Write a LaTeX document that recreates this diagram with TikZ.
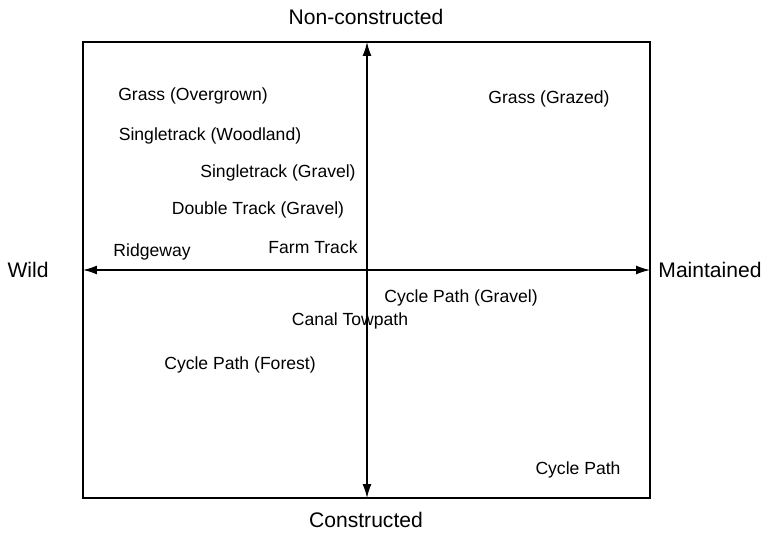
\documentclass[tikz,border=0pt]{standalone}
\usepackage{fontspec}
\setmainfont{Liberation Sans}
\usetikzlibrary{arrows.meta}

\begin{document}
\begin{tikzpicture}[x=0.02cm, y=-0.02cm,
    surface/.style={font=\fontsize{10}{12}\selectfont, inner sep=0pt, yshift=-0.04cm},
    axislabel/.style={font=\fontsize{12}{14}\selectfont, inner sep=0pt},
    axis/.style={thick, {Latex[length=2.8mm, width=1.8mm]}-{Latex[length=2.8mm, width=1.8mm]}}]
  \useasboundingbox (0, 0) rectangle (764, 533);

  % ----- Frame and axes -----
  \draw[thick] (83, 42) rectangle (650, 498);
  \coordinate (top) at (367, 42);
  \coordinate (bottom) at (367, 498);
  \coordinate (left) at (83, 270);
  \coordinate (right) at (650, 270);
  \draw[axis] (bottom) -- (top);
  \draw[axis] (left) -- (right);

  % Axis labels
  \node[axislabel] (noncon) at (366, 17) {Non-constructed};
  \node[axislabel] (con) at (366, 520) {Constructed};
  \node[axislabel] (wild) at (28, 270) {Wild};
  \node[axislabel] (maint) at (710, 270) {Maintained};

  % ----- Surfaces -----
  \node[surface] (overgrown) at (193, 94) {Grass (Overgrown)};
  \node[surface] (grazed) at (549, 97) {Grass (Grazed)};
  \node[surface] (woodland) at (210, 134) {Singletrack (Woodland)};
  \node[surface] (stgravel) at (278, 171) {Singletrack (Gravel)};
  \node[surface] (dtgravel) at (258, 208) {Double Track (Gravel)};
  \node[surface] (ridgeway) at (152, 250) {Ridgeway};
  \node[surface] (farm) at (313, 245) {Farm Track};
  \node[surface] (cpgravel) at (461, 296) {Cycle Path (Gravel)};
  \node[surface] (canal) at (350, 319) {Canal Towpath};
  \node[surface] (forest) at (240, 363) {Cycle Path (Forest)};
  \node[surface] (cycle) at (578, 468) {Cycle Path};
\end{tikzpicture}
\end{document}
